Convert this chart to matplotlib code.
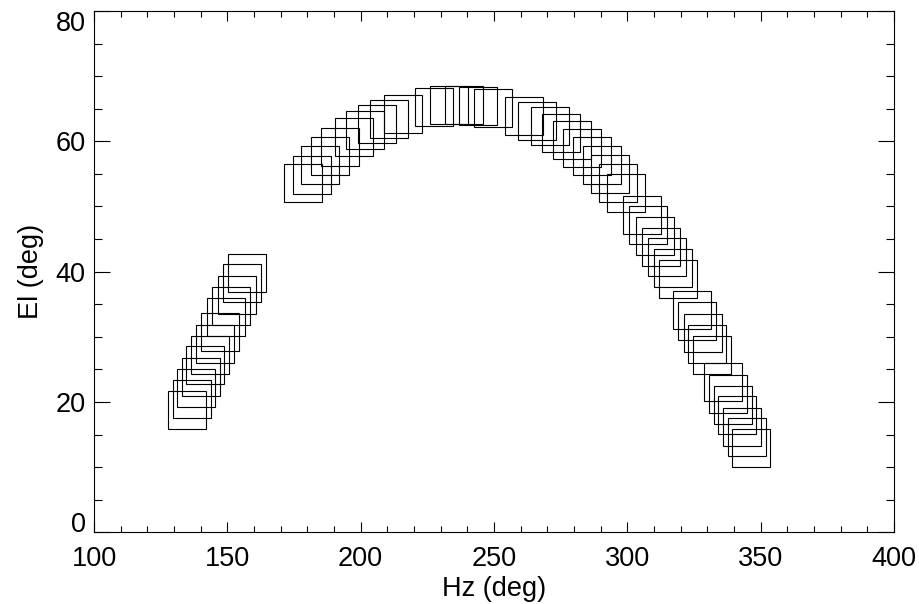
import matplotlib
matplotlib.use("Agg")
import matplotlib.pyplot as plt
from matplotlib.ticker import MultipleLocator

plt.rcParams['font.family'] = ['Liberation Sans', 'DejaVu Sans']

# rising track, left
hz_left = [134.8, 136.6, 138.3, 140.0, 141.7, 143.6, 145.4, 147.3, 149.5, 151.5, 153.5, 155.4, 157.5]
el_left = [18.7, 20.4, 22.2, 23.9, 25.6, 27.2, 28.9, 30.7, 33.0, 34.7, 36.4, 38.2, 39.8]

# long arc
hz_arc = [178.5, 181.8, 184.9, 188.4, 192.1, 197.4, 201.7, 206.1, 210.7, 216.0,
          227.6, 233.2, 238.8, 244.1, 249.6, 261.4, 266.2, 270.9, 275.2, 279.4,
          283.1, 286.9, 290.4, 293.5, 296.6, 299.6, 305.4, 307.9, 310.3, 312.6,
          314.8, 317.0, 319.1, 324.4, 326.3, 328.2, 330.0, 331.9, 336.0, 337.9,
          339.5, 341.2, 343.0, 344.8, 346.4]
el_arc = [53.6, 54.9, 56.4, 57.8, 59.1, 60.6, 61.7, 62.7, 63.5, 64.2,
          65.2, 65.5, 65.5, 65.4, 65.1, 63.9, 63.1, 62.3, 61.3, 60.2,
          59.0, 57.8, 56.4, 55.0, 53.6, 52.1, 48.7, 47.1, 45.5, 43.8,
          42.2, 40.5, 38.8, 34.1, 32.4, 30.6, 28.9, 27.2, 23.0, 21.3,
          19.6, 18.0, 16.2, 14.6, 12.9]

fig = plt.figure(figsize=(9.2, 6.04), dpi=100)
ax = fig.add_axes([0.1022, 0.1187, 0.8695, 0.8631])

for hz, el in [(hz_left, el_left), (hz_arc, el_arc)]:
    ax.plot(hz, el, linestyle='none', marker='s', markersize=28,
            markerfacecolor='none', markeredgecolor='black', markeredgewidth=0.8)

ax.set_xlim(100, 400)
ax.set_ylim(0, 80)
ax.set_xticks([100, 150, 200, 250, 300, 350, 400])
ax.set_yticks([0, 20, 40, 60, 80])
ax.xaxis.set_minor_locator(MultipleLocator(10))
ax.yaxis.set_minor_locator(MultipleLocator(5))

ax.tick_params(axis='both', which='both', direction='in', top=True, right=True,
               width=0.8, labelsize=19.5)
ax.tick_params(axis='x', which='major', length=7.2, pad=10)
ax.tick_params(axis='x', which='minor', length=4)
ax.tick_params(axis='y', which='major', length=11.5, pad=6)
ax.tick_params(axis='y', which='minor', length=5.8)
for s in ax.spines.values():
    s.set_linewidth(0.8)

# IDL keeps the end labels inside the axis range
yt = ax.yaxis.get_major_ticks()
yt[0].label1.set_va('baseline')
yt[-1].label1.set_va('top')

ax.set_xlabel('Hz (deg)', fontsize=19.5, labelpad=3)
ax.set_ylabel('El (deg)', fontsize=19.5, labelpad=8)

fig.savefig('out.png', dpi=100)
